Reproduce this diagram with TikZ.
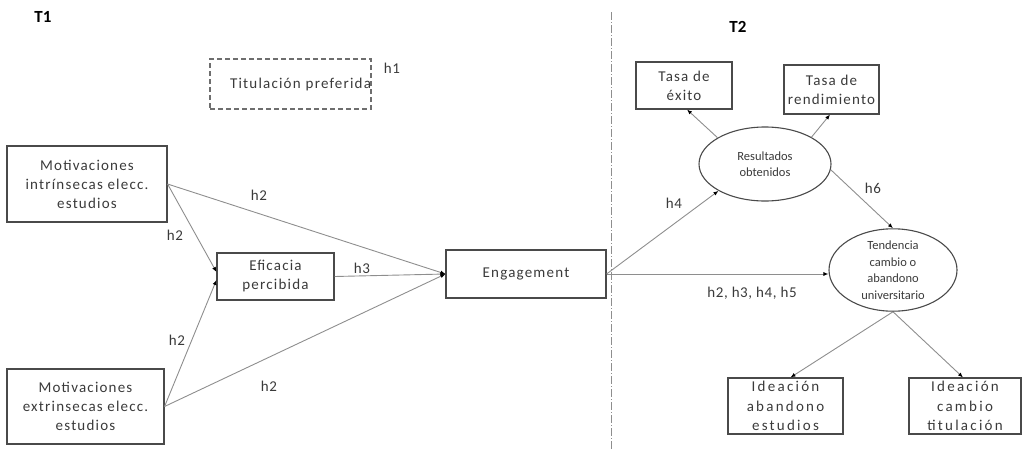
\documentclass[tikz,border=0pt]{standalone}
\usepackage{fontspec}
\setmainfont{Carlito}
\newfontfamily\boxfont[LetterSpace=8]{Carlito}
\newfontfamily\widefont[LetterSpace=15]{Carlito}
\newfontfamily\hfont[LetterSpace=4]{Carlito}
\usetikzlibrary{shapes.geometric,arrows.meta,calc}
\definecolor{txt}{HTML}{3A3A3A}
\definecolor{brd}{HTML}{4A4A4A}
\definecolor{conn}{HTML}{8E8E8E}
\definecolor{dashc}{HTML}{6E6E6E}
\tikzset{
  box/.style={draw=brd, line width=1.1pt, rectangle, inner sep=0pt, align=center,
    text=txt, font=\boxfont\fontsize{15}{19}\selectfont},
  widebox/.style={box, font=\widefont\fontsize{15}{19.5}\selectfont},
  oval/.style={draw=brd, line width=1.1pt, ellipse, inner sep=0pt, align=center,
    text=txt, font=\fontsize{12.5}{16.5}\selectfont},
  conn/.style={draw=conn, line width=0.9pt,
    -{Latex[length=5pt,width=4pt,color=black]}},
  hlab/.style={text=txt, font=\hfont\fontsize{15}{18}\selectfont, inner sep=0pt},
  tlab/.style={text=black, font=\bfseries\fontsize{17}{20}\selectfont, inner sep=0pt}
}
\begin{document}
\begin{tikzpicture}[x=1pt,y=-1pt]
\useasboundingbox (0,0) rectangle (1022,450);
% divider
\draw[draw=conn, line width=0.8pt, dash pattern=on 8pt off 2pt on 1pt off 2pt]
  (611,12) coordinate (dtop) -- (611,450) coordinate (dbot);
% titles
\node[tlab] (t1) at (43,17) {T1};
\node[tlab] (t2) at (738,27) {T2};
% T1 nodes
\node[box, draw=dashc, dash pattern=on 5pt off 3pt, text width=161pt, align=right,
  minimum height=50pt] (titul) at (290.5,84) {Titulación preferida};
\node[hlab] (h1) at (392,68) {h1};
\node[box, minimum width=160pt, minimum height=76pt] (motint) at (87,184)
  {Motivaciones\\intrínsecas elecc.\\estudios};
\node[box, minimum width=157pt, minimum height=75pt] (motext) at (85.5,406.5)
  {Motivaciones\\extrinsecas elecc.\\estudios};
\node[box, minimum width=117pt, minimum height=47pt] (efic) at (275.5,276.5)
  {Eficacia\\percibida};
\node[box, minimum width=160pt, minimum height=48pt] (eng) at (526,274)
  {Engagement};
% T2 nodes
\node[box, minimum width=96pt, minimum height=47pt] (exito) at (684,85.5)
  {Tasa de\\éxito};
\node[box, minimum width=95pt, minimum height=49pt] (rend) at (831.5,89.5)
  {Tasa de\\rendimiento};
\node[oval, minimum width=132pt, minimum height=74pt] (res) at (765,164)
  {Resultados\\obtenidos};
\node[oval, minimum width=128pt, minimum height=82pt] (tend) at (893,270)
  {Tendencia\\cambio o\\abandono\\universitario};
\node[widebox, minimum width=115pt, minimum height=56pt] (aband) at (785.5,406)
  {Ideación\\abandono\\estudios};
\node[widebox, minimum width=112pt, minimum height=56pt] (camb) at (965,406)
  {Ideación\\cambio\\titulación};
% connectors T1
\draw[conn] (motint.east) -- (eng.west);
\draw[conn] (motint.east) -- ($(efic.west)+(0,-4.5)$);
\draw[conn] (motext.east) -- ($(efic.west)+(0,3.5)$);
\draw[conn] (motext.east) -- (eng.west);
\draw[conn] (efic.east) -- (eng.west);
% connectors T2
\draw[conn] (eng.east) -- (res.210);
\draw[conn] (eng.east) -- (eng.east -| tend.west);
\draw[conn] (res.151) -- ($(exito.south)+(3,0)$);
\draw[conn] (res.30) -- ($(rend.south)+(-1.5,0)$);
\draw[conn] (res.-5) -- (tend.north);
\draw[conn] (tend.south) -- ($(aband.north)+(5,0)$);
\draw[conn] (tend.south) -- ($(camb.north)+(-2,0)$);
% labels
\node[hlab] (l2a) at (259,195) {h2};
\node[hlab] (l2b) at (175,235) {h2};
\node[hlab] (l2c) at (177,340) {h2};
\node[hlab] (l2d) at (269,386) {h2};
\node[hlab] (l3) at (362,268) {h3};
\node[hlab] (l4) at (674,203) {h4};
\node[hlab] (l6) at (873,188) {h6};
\node[hlab] (l5) at (752,293) {h2, h3, h4, h5};
\end{tikzpicture}
\end{document}
